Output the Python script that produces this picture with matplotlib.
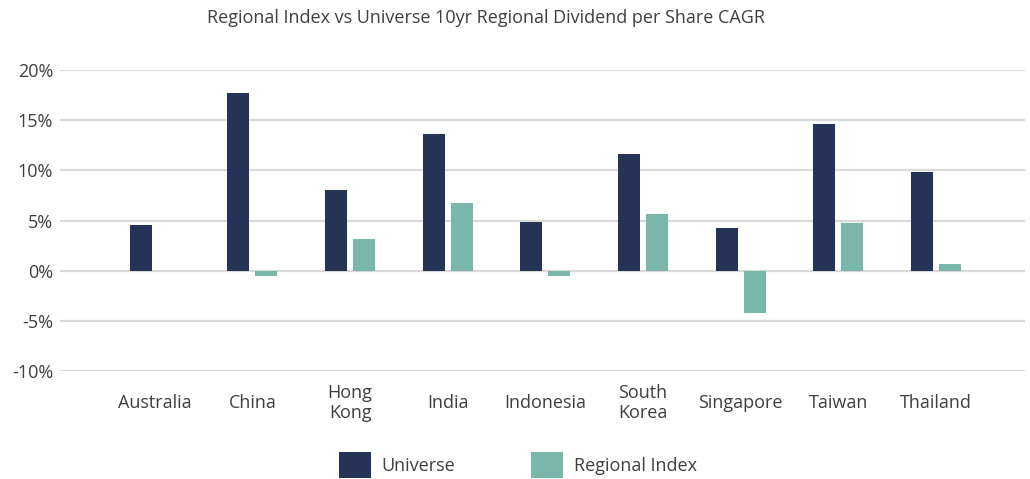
import numpy as np
import matplotlib.pyplot as plt
import matplotlib.ticker as mtick

# data (percent)
regions = ['Australia', 'China', 'Hong\nKong', 'India', 'Indonesia', 'South\nKorea',
           'Singapore', 'Taiwan', 'Thailand']
universe = [4.6, 17.7, 8.0, 13.6, 4.9, 11.6, 4.3, 14.6, 9.8]
regional_index = [np.nan, -0.5, 3.2, 6.7, -0.5, 5.6, -4.2, 4.8, 0.7]

navy = '#253356'
teal = '#7bb6ab'
txt = '#3f3f3f'
plt.rcParams['font.family'] = ['Open Sans', 'DejaVu Sans']

fig = plt.figure(figsize=(10.30, 4.79), dpi=100)
ax = fig.add_axes([60 / 1030, 108 / 479, 965 / 1030, 301 / 479])

x = np.arange(len(regions))
w = 0.225
off = 0.143
ax.bar(x - off, universe, w, color=navy, label='Universe', zorder=3)
ax.bar(x + off, regional_index, w, color=teal, label='Regional Index', zorder=3)

ax.set_ylim(-10, 20)
ax.set_xlim(-0.97, 8.91)
ax.set_yticks(np.arange(-10, 21, 5))
ax.yaxis.set_major_formatter(mtick.FormatStrFormatter('%d%%'))
ax.grid(axis='y', color='#d9d9d9', linewidth=1.6, zorder=0)
for s in ax.spines.values():
    s.set_visible(False)
ax.tick_params(axis='both', length=0, labelsize=13, labelcolor=txt)
ax.tick_params(axis='y', pad=5)
ax.set_xticks(x)
ax.set_xticklabels(regions, linespacing=1.2, va='center')
ax.tick_params(axis='x', pad=23)

fig.text(486 / 1030, 1 - 18 / 479, 'Regional Index vs Universe 10yr Regional Dividend per Share CAGR',
         ha='center', va='center', fontsize=13, color=txt)

fig.legend(loc='center', bbox_to_anchor=(518 / 1030, 1 - 465 / 479), ncol=2, frameon=False,
           fontsize=13, handlelength=1.75, handleheight=1.9, columnspacing=4.2,
           labelcolor=txt, handletextpad=0.6)

fig.savefig('out.png', dpi=100)
